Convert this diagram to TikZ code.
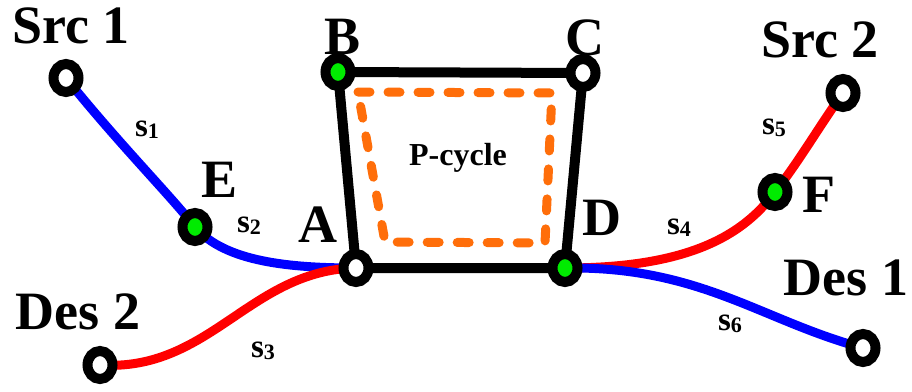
\documentclass[tikz,border=0pt]{standalone}
\usepackage{fontspec}
\setmainfont{Liberation Serif}
\usetikzlibrary{shapes.geometric}
\pgfdeclarelayer{bg}
\pgfsetlayers{bg,main}
\definecolor{vgreen}{RGB}{0,235,0}
\definecolor{pblue}{RGB}{0,0,255}
\definecolor{pred}{RGB}{255,0,0}
\definecolor{porange}{RGB}{255,110,10}
\begin{document}
\begin{tikzpicture}[x=1pt,y=-1pt,
  vtx/.style={ellipse,draw=black,line width=10pt,minimum width=25pt,minimum height=28pt,inner sep=0pt,fill=white},
  gvtx/.style={vtx,fill=vgreen},
  big/.style={font=\fontsize{54}{54}\selectfont\bfseries,inner sep=0pt},
  seg/.style={font=\fontsize{33}{33}\selectfont\bfseries,inner sep=0pt},
  ptxt/.style={font=\fontsize{32}{32}\selectfont\bfseries,inner sep=0pt},
  bluepath/.style={draw=pblue,line width=9pt},
  redpath/.style={draw=pred,line width=9pt},
  cyc/.style={draw=black,line width=10pt,line join=round},
  pdash/.style={draw=porange,line width=9pt,line cap=round,line join=round,dash pattern=on 12pt off 18pt}]
\useasboundingbox (0,0) rectangle (912,391);
% vertices
\node[vtx]  (src1) at (66,78) {};
\node[gvtx] (E)    at (195,227) {};
\node[vtx]  (A)    at (356,268) {};
\node[gvtx] (B)    at (338,72) {};
\node[vtx]  (C)    at (583,73) {};
\node[gvtx] (D)    at (565,268) {};
\node[gvtx] (F)    at (775,192) {};
\node[vtx]  (src2) at (843,93) {};
\node[vtx]  (des1) at (863,348) {};
\node[vtx]  (des2) at (100,365) {};
% connectors
\begin{pgfonlayer}{bg}
\draw[cyc] (B.center) -- (C.center) -- (D.center) -- (A.center) -- cycle;
\draw[bluepath] (src1.center) .. controls (120,145) and (170,195) .. (E.center)
   .. controls (225,262) and (290,268) .. (A.center);
\draw[redpath] (des2.center) .. controls (210,372) and (250,270) .. (A.center);
\draw[redpath] (D.center) .. controls (680,268) and (740,240) .. (F.center)
   .. controls (800,160) and (820,125) .. (src2.center);
\draw[bluepath] (D.center) .. controls (700,266) and (760,320) .. (des1.center);
\end{pgfonlayer}
% p-cycle
\draw[pdash] (358,92) -- (552,93) -- (545,243) -- (385,242) -- cycle;
\node[ptxt] (pc) at (458,158) {P-cycle};
% labels
\node[big] (lsrc1) at (71,26) {Src 1};
\node[big] (lsrc2) at (820,40) {Src 2};
\node[big] (ldes1) at (846,278) {Des 1};
\node[big] (ldes2) at (78,312) {Des 2};
\node[big] (lE) at (220,180) {E};
\node[big] (lA) at (318,225) {A};
\node[big] (lB) at (343,37) {B};
\node[big] (lC) at (585,38) {C};
\node[big] (lD) at (602,218) {D};
\node[big] (lF) at (819,195) {F};
% segment labels
\node[seg] (s1) at (147,130) {s\raisebox{-2pt}{\fontsize{22}{22}\selectfont 1}};
\node[seg] (s2) at (249,226) {s\raisebox{-2pt}{\fontsize{22}{22}\selectfont 2}};
\node[seg] (s3) at (263,351) {s\raisebox{-2pt}{\fontsize{22}{22}\selectfont 3}};
\node[seg] (s4) at (679,228) {s\raisebox{-2pt}{\fontsize{22}{22}\selectfont 4}};
\node[seg] (s5) at (774,128) {s\raisebox{-2pt}{\fontsize{22}{22}\selectfont 5}};
\node[seg] (s6) at (730,324) {s\raisebox{-2pt}{\fontsize{22}{22}\selectfont 6}};
\end{tikzpicture}
\end{document}
